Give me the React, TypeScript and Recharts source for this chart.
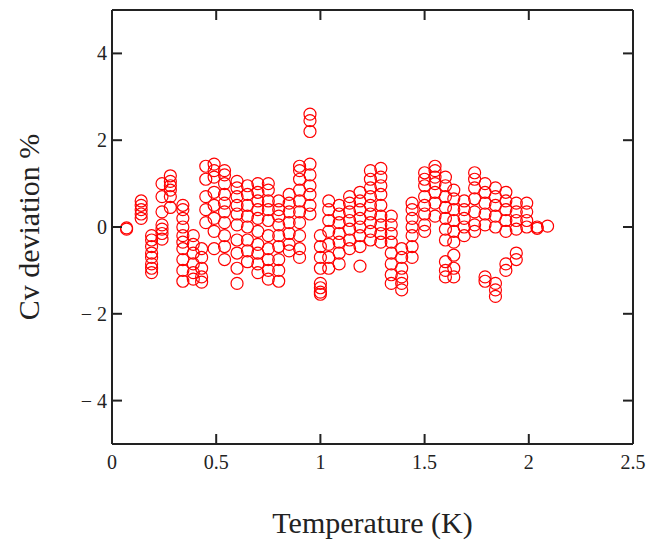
import React from "react";
import { ScatterChart, Scatter, XAxis, YAxis } from "recharts";

// Temperature columns (K) and the Cv deviations (%) measured at each of them
const temps = [
  0.07, 0.14, 0.19, 0.24, 0.28, 0.34, 0.39, 0.43, 0.45, 0.49,
  0.54, 0.6, 0.65, 0.7, 0.75, 0.8, 0.85, 0.9, 0.95, 1.0,
  1.04, 1.09, 1.14, 1.19, 1.24, 1.29, 1.34, 1.39, 1.44, 1.5,
  1.55, 1.6, 1.64, 1.69, 1.74, 1.79, 1.84, 1.89, 1.94, 1.99,
  2.04, 2.09,
];

const deviations = [
  [-0.02, -0.05],
  [0.6, 0.5, 0.4, 0.3, 0.2],
  [-0.2, -0.3, -0.45, -0.6, -0.7, -0.85, -0.95, -1.05],
  [1.0, 0.7, 0.35, 0.05, -0.05, -0.15, -0.28],
  [1.18, 1.05, 0.95, 0.85, 0.7, 0.45],
  [0.5, 0.4, 0.2, 0.0, -0.2, -0.35, -0.5, -0.75, -1.0, -1.25],
  [-0.2, -0.4, -0.6, -0.85, -1.05, -1.2],
  [-0.5, -0.7, -0.95, -1.15, -1.27],
  [1.4, 1.1, 0.7, 0.4, 0.1],
  [1.45, 1.3, 1.15, 0.8, 0.5, 0.2, -0.1, -0.5],
  [1.3, 1.2, 1.0, 0.75, 0.55, 0.35, 0.1, -0.2, -0.45, -0.75],
  [1.05, 0.9, 0.7, 0.5, 0.3, 0.05, -0.3, -0.6, -0.95, -1.3],
  [0.95, 0.75, 0.5, 0.25, 0.0, -0.3, -0.55, -0.8],
  [1.0, 0.8, 0.6, 0.4, 0.2, -0.1, -0.4, -0.6, -0.85, -1.05],
  [1.0, 0.85, 0.6, 0.4, 0.15, -0.2, -0.5, -0.75, -1.0, -1.2],
  [0.6, 0.4, 0.25, 0.05, -0.2, -0.45, -0.75, -1.0, -1.25],
  [0.75, 0.55, 0.35, 0.1, -0.15, -0.4, -0.55],
  [1.4, 1.3, 1.1, 0.85, 0.6, 0.35, 0.1, -0.2, -0.5, -0.7],
  [2.6, 2.45, 2.2, 1.45, 1.2, 0.95, 0.75, 0.5, 0.3],
  [-0.2, -0.45, -0.7, -0.95, -1.3, -1.4, -1.5, -1.55],
  [0.6, 0.4, 0.15, -0.1, -0.4, -0.7, -0.95],
  [0.5, 0.3, 0.1, -0.15, -0.35, -0.6, -0.85],
  [0.7, 0.55, 0.35, 0.15, -0.05, -0.3, -0.5],
  [0.8, 0.6, 0.4, 0.2, 0.0, -0.2, -0.45, -0.9],
  [1.3, 1.1, 0.9, 0.7, 0.5, 0.3, 0.1, -0.1, -0.3],
  [1.35, 1.15, 0.95, 0.75, 0.5, 0.25, 0.05, -0.15, -0.35],
  [0.25, 0.05, -0.15, -0.35, -0.6, -0.85, -1.1, -1.3],
  [-0.5, -0.7, -0.95, -1.15, -1.3, -1.45],
  [0.55, 0.4, 0.2, 0.0, -0.2, -0.45, -0.7],
  [1.25, 1.1, 0.95, 0.7, 0.5, 0.3, 0.05, -0.1],
  [1.4, 1.3, 1.15, 1.0, 0.8, 0.55, 0.25],
  [1.15, 0.95, 0.7, 0.45, 0.2, -0.05, -0.3, -0.8, -1.0, -1.15],
  [0.85, 0.65, 0.4, 0.15, -0.1, -0.35, -0.65, -0.95, -1.15],
  [0.6, 0.4, 0.2, 0.0, -0.2],
  [1.25, 1.1, 0.9, 0.65, 0.35, 0.05, -0.1],
  [1.0, 0.8, 0.55, 0.3, 0.05, -1.15, -1.25],
  [0.9, 0.7, 0.5, 0.25, 0.0, -1.3, -1.45, -1.6],
  [0.8, 0.6, 0.4, 0.15, -0.1, -0.85, -1.0],
  [0.55, 0.35, 0.15, -0.05, -0.6, -0.75],
  [0.55, 0.35, 0.15, 0.0],
  [0.0, -0.03],
  [0.02],
];

const xTicks = [0, 0.5, 1, 1.5, 2, 2.5];
const yTicks = [-4, -2, 0, 2, 4];

const points = temps.flatMap((t, i) => deviations[i].map((d) => ({ t, dev: d })));

const FONT = '"Liberation Serif", "Times New Roman", serif';
const INK = "#222";
const TICK_LEN = 10;
const LEFT_GAP = 5;
const BOTTOM_GAP = 11;

const fmtY = (v: number) => (v < 0 ? `\u2212 ${Math.abs(v)}` : `${v}`);

type TickProps = { x?: number; y?: number; payload?: { value: number } };

// ticks point into the plot, labels stay outside (Mathcad style)
const LeftTick = ({ x = 0, y = 0, payload }: TickProps) => (
  <g>
    <line x1={x + LEFT_GAP} x2={x + LEFT_GAP + TICK_LEN} y1={y} y2={y} stroke={INK} strokeWidth={2} />
    <text x={x} y={y} dy="0.35em" textAnchor="end" fill={INK} fontSize={20} fontFamily={FONT}>
      {fmtY(payload?.value ?? 0)}
    </text>
  </g>
);

const BottomTick = ({ x = 0, y = 0, payload }: TickProps) => (
  <g>
    <line x1={x} x2={x} y1={y - BOTTOM_GAP} y2={y - BOTTOM_GAP - TICK_LEN} stroke={INK} strokeWidth={2} />
    <text x={x} y={y} dy="0.71em" textAnchor="middle" fill={INK} fontSize={20} fontFamily={FONT}>
      {payload?.value}
    </text>
  </g>
);

const TopTick = ({ x = 0, y = 0 }: TickProps) => (
  <line x1={x} x2={x} y1={y} y2={y + TICK_LEN} stroke={INK} strokeWidth={2} />
);

const RightTick = ({ x = 0, y = 0 }: TickProps) => (
  <line x1={x} x2={x - TICK_LEN} y1={y} y2={y} stroke={INK} strokeWidth={2} />
);

const OpenCircle = (props: { cx?: number; cy?: number }) => {
  const { cx, cy } = props;
  if (cx == null || cy == null) return <g />;
  return <circle cx={cx} cy={cy} r={6} fill="none" stroke="#ff0000" strokeWidth={1.2} />;
};

const NoMark = () => <g />;

export default function App() {
  return (
    <div style={{ position: "absolute", left: 0, top: 0, background: "#fff" }}>
      <ScatterChart width={655} height={547} margin={{ top: 9, right: 21, bottom: 0, left: 0 }}>
        <XAxis
          xAxisId="bottom"
          type="number"
          dataKey="t"
          domain={[0, 2.5]}
          ticks={xTicks}
          allowDataOverflow
          height={103}
          tickSize={0}
          tickMargin={BOTTOM_GAP}
          tickLine={false}
          stroke={INK}
          strokeWidth={2}
          tick={<BottomTick />}
          label={{
            value: "Temperature (K)",
            position: "insideBottom",
            offset: 14,
            style: { fill: INK, fontSize: 30, fontFamily: FONT },
          }}
        />
        <XAxis
          xAxisId="top"
          orientation="top"
          type="number"
          dataKey="t"
          domain={[0, 2.5]}
          ticks={xTicks}
          allowDataOverflow
          height={1}
          tickSize={0}
          tickMargin={0}
          tickLine={false}
          tick={<TopTick />}
          stroke={INK}
          strokeWidth={2}
        />
        <YAxis
          yAxisId="left"
          type="number"
          dataKey="dev"
          domain={[-5, 5]}
          ticks={yTicks}
          allowDataOverflow
          width={112}
          tickSize={0}
          tickMargin={LEFT_GAP}
          tickLine={false}
          stroke={INK}
          strokeWidth={2}
          tick={<LeftTick />}
          label={{
            value: "Cv deviation %",
            angle: -90,
            position: "insideLeft",
            offset: 28,
            style: { fill: INK, fontSize: 30, fontFamily: FONT, textAnchor: "middle" },
          }}
        />
        <YAxis
          yAxisId="right"
          orientation="right"
          type="number"
          dataKey="dev"
          domain={[-5, 5]}
          ticks={yTicks}
          allowDataOverflow
          width={1}
          tickSize={0}
          tickMargin={0}
          tickLine={false}
          tick={<RightTick />}
          stroke={INK}
          strokeWidth={2}
        />
        {/* invisible twin series so the top and right frame axes get drawn */}
        <Scatter
          data={points}
          xAxisId="top"
          yAxisId="right"
          shape={NoMark}
          isAnimationActive={false}
        />
        <Scatter
          data={points}
          xAxisId="bottom"
          yAxisId="left"
          shape={OpenCircle}
          isAnimationActive={false}
        />
      </ScatterChart>
    </div>
  );
}
